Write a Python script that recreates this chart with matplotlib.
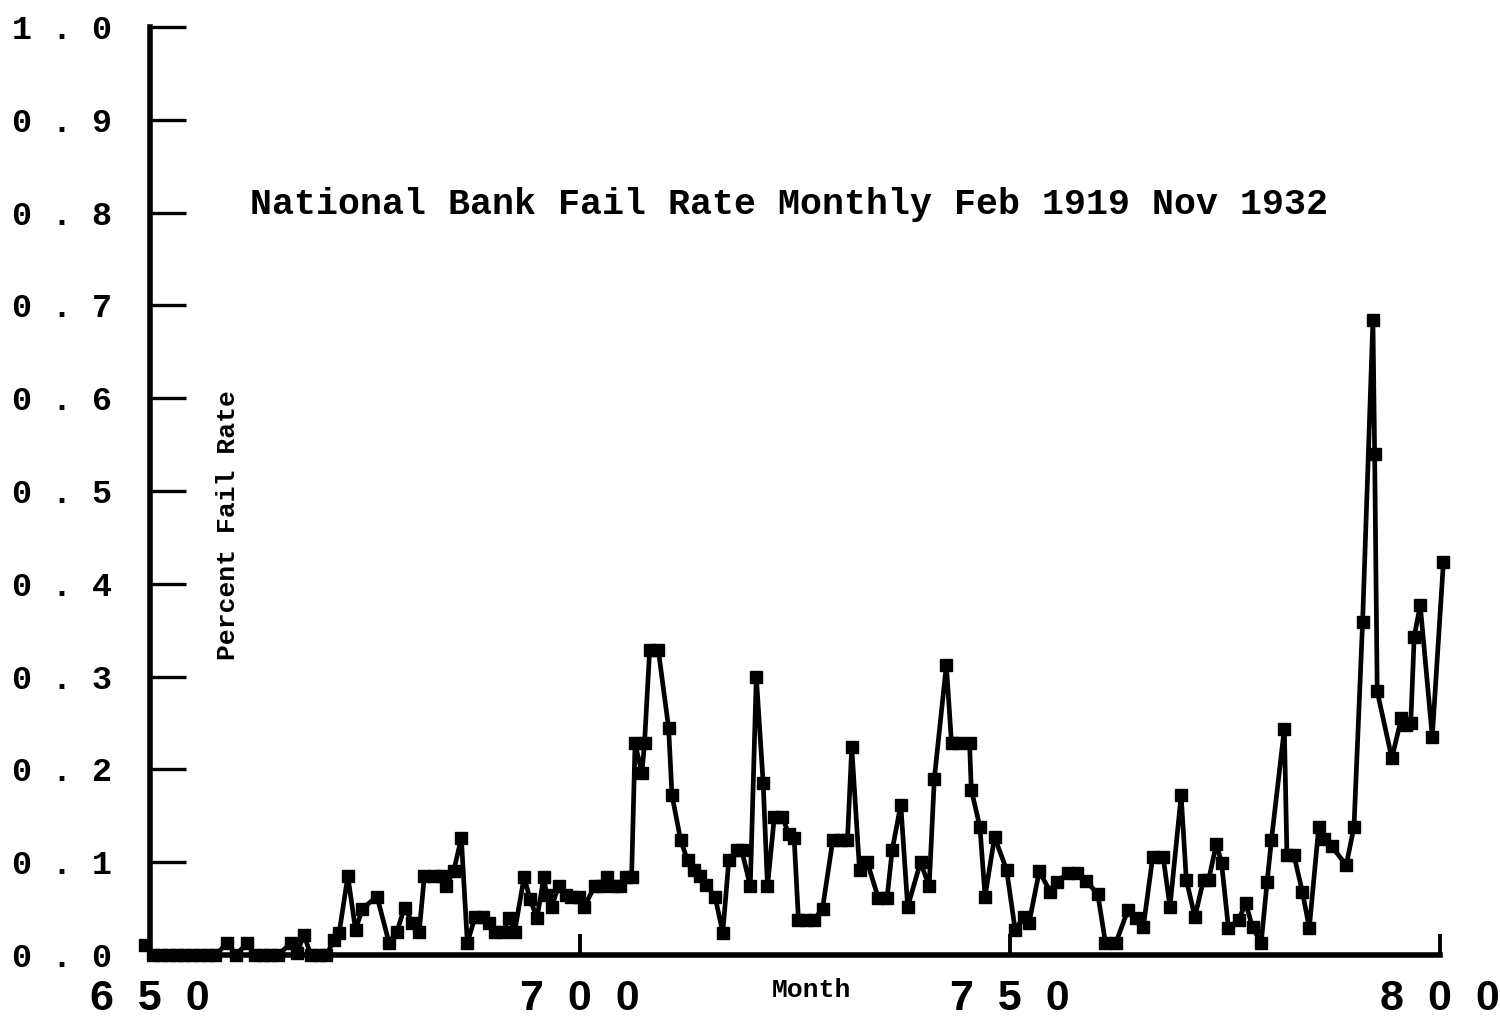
import matplotlib
matplotlib.use("Agg")
import matplotlib.pyplot as plt

# month index and national bank fail rate
months = [
    649.4, 650.3, 651.3, 652.2, 653.1, 654.0, 654.9, 655.8, 656.7, 657.6,
    659.0, 660.0, 661.3, 662.2, 663.1, 664.0, 664.9, 666.4, 667.1, 667.9,
    668.7, 669.6, 670.5, 671.4, 672.0, 673.0, 673.9, 674.7, 676.4, 677.8,
    678.7, 679.6, 680.5, 681.3, 681.9, 683.0, 683.9, 684.4, 685.3, 686.2,
    686.9, 687.8, 688.7, 689.4, 690.1, 691.0, 691.8, 692.4, 693.5, 694.2,
    695.0, 695.8, 696.1, 696.7, 697.5, 698.4, 699.0, 699.9, 700.5, 701.7,
    702.4, 703.1, 703.9, 704.6, 705.3, 706.0, 706.4, 707.2, 707.5, 708.1,
    709.1, 710.3, 710.7, 711.7, 712.5, 713.3, 714.0, 714.7, 715.7, 716.6,
    717.3, 718.3, 718.8, 719.8, 720.5, 721.3, 721.8, 722.6, 723.5, 724.3,
    724.9, 725.4, 726.3, 727.2, 728.2, 729.4, 730.3, 731.1, 731.6, 732.5,
    733.4, 734.7, 735.7, 736.3, 737.3, 738.1, 739.6, 740.6, 741.2, 742.6,
    743.2, 744.0, 745.3, 745.5, 746.5, 747.1, 748.2, 749.6, 750.6, 751.6,
    752.2, 753.4, 754.7, 755.5, 756.7, 757.8, 758.8, 760.2, 761.1, 762.3,
    763.7, 764.6, 765.5, 766.6, 767.8, 768.6, 769.9, 770.5, 771.5, 772.5,
    773.1, 774.0, 774.6, 775.4, 776.6, 777.4, 778.2, 779.2, 779.9, 780.4,
    781.9, 782.2, 783.0, 784.0, 784.8, 785.9, 786.5, 787.4, 789.1, 790.0,
    791.0, 792.2, 792.4, 792.7, 794.4, 795.5, 796.1, 796.6, 797.0, 797.7,
    799.1, 800.4,
]

fail_rate = [
    0.011, 0.0, 0.0, 0.0, 0.0, 0.0, 0.0, 0.0, 0.0, 0.0,
    0.013, 0.0, 0.013, 0.0, 0.0, 0.0, 0.0, 0.013, 0.002, 0.022,
    0.0, 0.0, 0.0, 0.016, 0.024, 0.085, 0.027, 0.05, 0.063, 0.013,
    0.025, 0.051, 0.035, 0.025, 0.085, 0.085, 0.085, 0.074, 0.09, 0.126,
    0.013, 0.041, 0.041, 0.035, 0.025, 0.025, 0.04, 0.025, 0.084, 0.06,
    0.04, 0.084, 0.065, 0.052, 0.074, 0.065, 0.063, 0.063, 0.052, 0.074,
    0.074, 0.084, 0.074, 0.074, 0.084, 0.084, 0.228, 0.196, 0.228, 0.329,
    0.329, 0.245, 0.172, 0.124, 0.102, 0.092, 0.085, 0.075, 0.063, 0.024,
    0.102, 0.113, 0.113, 0.074, 0.30, 0.185, 0.074, 0.149, 0.149, 0.13,
    0.126, 0.038, 0.038, 0.038, 0.05, 0.124, 0.124, 0.124, 0.224, 0.092,
    0.10, 0.061, 0.061, 0.113, 0.162, 0.052, 0.10, 0.074, 0.19, 0.3125,
    0.228, 0.228, 0.228, 0.178, 0.138, 0.063, 0.127, 0.092, 0.027, 0.041,
    0.034, 0.09, 0.068, 0.079, 0.088, 0.088, 0.08, 0.066, 0.013, 0.013,
    0.048, 0.04, 0.03, 0.106, 0.106, 0.052, 0.172, 0.081, 0.041, 0.081,
    0.081, 0.12, 0.099, 0.029, 0.038, 0.056, 0.03, 0.013, 0.079, 0.124,
    0.244, 0.108, 0.108, 0.068, 0.029, 0.138, 0.125, 0.117, 0.097, 0.138,
    0.359, 0.684, 0.54, 0.284, 0.212, 0.255, 0.248, 0.25, 0.343, 0.377,
    0.235, 0.424,
]

y_ticks = [0.0, 0.1, 0.2, 0.3, 0.4, 0.5, 0.6, 0.7, 0.8, 0.9, 1.0]
y_tick_labels = ["0 . 0", "0 . 1", "0 . 2", "0 . 3", "0 . 4", "0 . 5",
                 "0 . 6", "0 . 7", "0 . 8", "0 . 9", "1 . 0"]
x_ticks = [650, 700, 750, 800]
x_tick_labels = ["6  5  0", "7  0  0", "7  5  0", "8  0  0"]

title = "National Bank Fail Rate Monthly Feb 1919 Nov 1932"
y_label = "Percent Fail Rate"
x_label = "Month"


def plot_rates():
    fig = plt.figure(figsize=(15, 10.24), dpi=100)
    ax = fig.add_axes([0.1, 0.0674, 0.86, 0.9062])

    ax.plot(months, fail_rate, color="black", linewidth=3.4,
            marker="s", markersize=9, clip_on=False, zorder=3)

    ax.set_xlim(650, 800)
    ax.set_ylim(0, 1)

    for side in ["top", "right"]:
        ax.spines[side].set_visible(False)
    ax.spines["left"].set_linewidth(4)
    ax.spines["bottom"].set_linewidth(4)

    ax.set_yticks(y_ticks)
    ax.set_yticklabels(y_tick_labels, fontfamily="Liberation Mono",
                       fontweight="bold", fontsize=24)
    ax.tick_params(axis="y", direction="in", length=26, width=2.4, pad=27)

    ax.set_xticks(x_ticks)
    ax.set_xticklabels(x_tick_labels, fontfamily="Liberation Sans",
                       fontweight="bold", fontsize=31)
    ax.tick_params(axis="x", direction="in", length=15, width=2.8, pad=17)

    fig.text(250 / 1500, 1 - 205 / 1024, title, ha="left", va="center",
             fontfamily="Liberation Mono", fontweight="bold", fontsize=26.4)
    fig.text(228 / 1500, 1 - 525 / 1024, y_label, ha="center", va="center",
             rotation=90, fontfamily="Liberation Mono", fontweight="bold",
             fontsize=19)
    fig.text(811 / 1500, 1 - 990 / 1024, x_label, ha="center", va="center",
             fontfamily="Liberation Mono", fontweight="bold", fontsize=19)

    fig.savefig("out.png", dpi=100)


def main():
    plot_rates()


if __name__ == "__main__":
    main()
